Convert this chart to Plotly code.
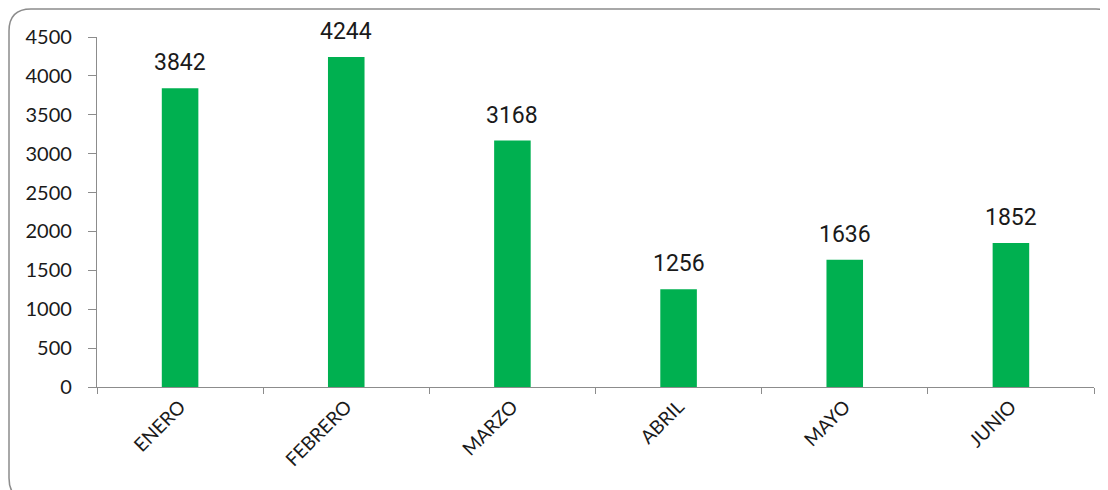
import plotly.graph_objects as go

months = ["ENERO", "FEBRERO", "MARZO", "ABRIL", "MAYO", "JUNIO"]
values = [3842, 4244, 3168, 1256, 1636, 1852]
y_ticks = [0, 500, 1000, 1500, 2000, 2500, 3000, 3500, 4000, 4500]

OFF = 8  # default body margin of the html page
W, H = 1108 - OFF, 490 - OFF
L, T = 97 - OFF, 37 - OFF
R = W - (1094 - OFF)
B = H - (387 - OFF)
pw, ph = W - L - R, H - T - B

def px(x):  # page pixel -> paper x
    return (x - OFF - L) / pw

def py(y):  # page pixel -> paper y
    return (H - B - (y - OFF)) / ph

fig = go.Figure()
fig.add_trace(go.Bar(
    x=months, y=values,
    marker=dict(color="#00B050", line=dict(width=0)),
    width=0.22,
    hoverinfo="x+y",
))

for m, v in zip(months, values):
    fig.add_annotation(x=m, y=v, text=str(v), showarrow=False,
                       yanchor="bottom", yshift=10,
                       font=dict(family="Roboto", size=23, color="#1a1a1a"))

# rounded border of the chart area
x0, y0, x1, y1, r = 9, 9, 1118, 500, 22
path = (f"M {px(x0)},{py(y0 + r)} "
        f"Q {px(x0)},{py(y0)} {px(x0 + r)},{py(y0)} "
        f"L {px(x1 - r)},{py(y0)} "
        f"Q {px(x1)},{py(y0)} {px(x1)},{py(y0 + r)} "
        f"L {px(x1)},{py(y1 - r)} "
        f"Q {px(x1)},{py(y1)} {px(x1 - r)},{py(y1)} "
        f"L {px(x0 + r)},{py(y1)} "
        f"Q {px(x0)},{py(y1)} {px(x0)},{py(y1 - r)} Z")
fig.add_shape(type="path", path=path, xref="paper", yref="paper",
              line=dict(color="#8C8C8C", width=1.5), layer="below")

fig.update_layout(
    width=W, height=H,
    margin=dict(l=L, r=R, t=T, b=B),
    paper_bgcolor="white", plot_bgcolor="white",
    showlegend=False,
    bargap=0.78,
    xaxis=dict(
        showline=True, linecolor="#8C8C8C", linewidth=1.3,
        ticks="outside", tickson="boundaries", ticklen=6, tickcolor="#8C8C8C",
        tickangle=-45, tickfont=dict(family="Lato", size=19, color="#1a1a1a"),
        showgrid=False, zeroline=False,
    ),
    yaxis=dict(
        range=[0, 4500], tickvals=y_ticks,
        showline=True, linecolor="#8C8C8C", linewidth=1.3,
        ticks="outside", ticklen=8, tickcolor="#8C8C8C",
        ticklabelstandoff=12,
        tickfont=dict(family="Lato", size=20, color="#1a1a1a"),
        showgrid=False, zeroline=False,
    ),
)

fig.write_html("out.html")
